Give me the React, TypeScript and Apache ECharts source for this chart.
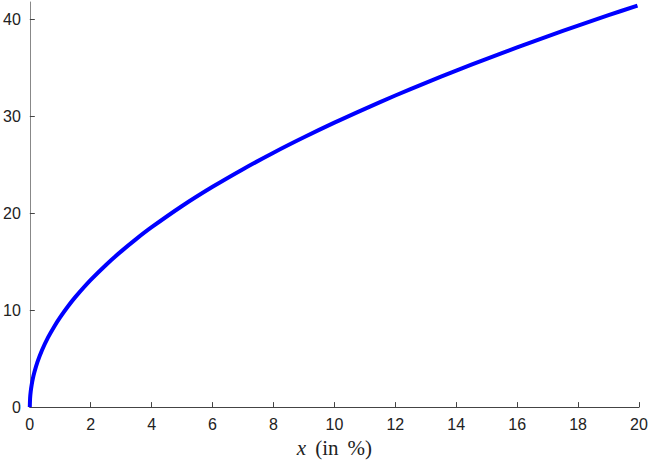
import React, { useEffect, useRef } from "react";
import * as echarts from "echarts";

const xValues = [0, 0.01, 0.03, 0.06, 0.1, 0.15, 0.25, 0.4, 0.6, 0.8, 1, 1.25, 1.5, 2, 2.5, 3, 3.5, 4, 5, 6, 7, 8, 9, 10, 11, 12, 13, 14, 15, 16, 17, 18, 19, 19.95];
const yValues = [0, 0.93, 1.61, 2.27, 2.93, 3.59, 4.64, 5.87, 7.19, 8.3, 9.28, 10.38, 11.37, 13.12, 14.67, 16.07, 17.36, 18.56, 20.75, 22.73, 24.55, 26.25, 27.84, 29.35, 30.78, 32.15, 33.46, 34.72, 35.94, 37.12, 38.26, 39.37, 40.45, 41.42];
const yTicks = [0, 10, 20, 30, 40];
const xTicks = [0, 2, 4, 6, 8, 10, 12, 14, 16, 18, 20];

export default function App() {
  const ref = useRef<HTMLDivElement>(null);
  useEffect(() => {
    if (!ref.current) return;
    const chart = echarts.init(ref.current, null, { renderer: "svg" });
    const data = xValues.map((x, i) => [x, yValues[i]]);
    const serif = "Liberation Serif";
    chart.setOption({
      animation: false,
      backgroundColor: "#ffffff",
      grid: { left: 29, right: 14, top: 2, bottom: 52, containLabel: false },
      xAxis: {
        type: "value",
        min: 0,
        max: 20,
        interval: 2,
        name: "{i|x}{a|(in}{b|%)}",
        nameLocation: "middle",
        nameGap: 27,
        nameTextStyle: {
          fontFamily: serif,
          fontSize: 21,
          color: "#222",
          rich: {
            i: { fontFamily: serif, fontStyle: "italic", fontSize: 21, color: "#222" },
            a: { fontFamily: serif, fontSize: 21, color: "#222", padding: [0, 0, 0, 9] },
            b: { fontFamily: serif, fontSize: 21, color: "#222", padding: [0, 0, 0, 9] },
          },
        },
        axisLine: { show: true, lineStyle: { color: "#444", width: 1 } },
        axisTick: { show: true, inside: true, length: 5, lineStyle: { color: "#444" }, customValues: xTicks },
        axisLabel: { color: "#222", fontSize: 16, fontFamily: "Liberation Sans", margin: 9, customValues: xTicks },
        splitLine: { show: false },
      },
      yAxis: {
        type: "value",
        min: 0,
        max: 41.8,
        interval: 10,
        axisLine: { show: true, lineStyle: { color: "#888", width: 1 } },
        axisTick: { show: true, inside: true, length: 5, lineStyle: { color: "#444" }, customValues: yTicks },
        axisLabel: { color: "#222", fontSize: 16, fontFamily: "Liberation Sans", margin: 9, customValues: yTicks },
        splitLine: { show: false },
      },
      series: [
        {
          type: "line",
          data,
          showSymbol: false,
          smooth: 0.3,
          lineStyle: { color: "#0000ff", width: 4 },
        },
      ],
    });
    return () => chart.dispose();
  }, []);
  return <div ref={ref} style={{ position: "absolute", left: 0, top: 0, width: 653, height: 463 }} />;
}
